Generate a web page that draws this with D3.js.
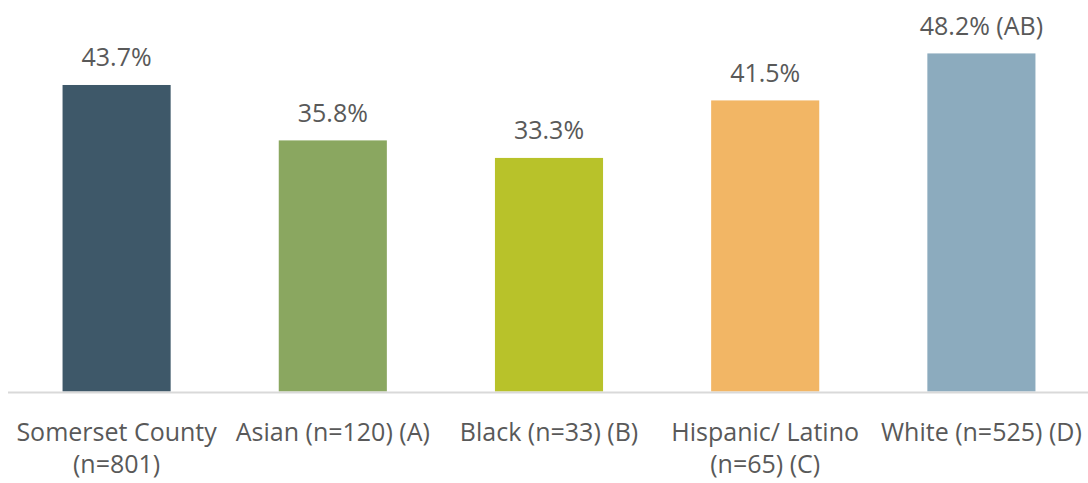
<!DOCTYPE html>
<html>
<head>
<meta charset="utf-8">
<script src="https://cdn.jsdelivr.net/npm/d3@7"></script>
<style>
    body { margin: 0; background: #fff; }
    #chart text { font-family: "Open Sans", sans-serif; fill: #595959; }
</style>
</head>
<body>
<div id="chart"></div>
<script>
// data
var categories = ["Somerset County", "Asian", "Black", "Hispanic/ Latino", "White"];
var catLines = [
    ["Somerset County", "(n=801)"],
    ["Asian (n=120) (A)"],
    ["Black (n=33) (B)"],
    ["Hispanic/ Latino", "(n=65) (C)"],
    ["White (n=525) (D)"]
];
var values = [43.7, 35.8, 33.3, 41.5, 48.2];
var valueLabels = ["43.7%", "35.8%", "33.3%", "41.5%", "48.2% (AB)"];
var colors = ["#3e5869", "#8aa760", "#b8c22a", "#f2b665", "#8cabbe"];

var W = 1088, H = 483;
var baseY = 391.5;

var svg = d3.select("#chart").append("svg")
    .attr("width", W)
    .attr("height", H);

var x = d3.scaleBand()
    .domain(categories)
    .range([8.5, 1089.5])
    .paddingInner(0.5)
    .paddingOuter(0.25);

var y = d3.scaleLinear()
    .domain([0, 50])
    .range([baseY, 40.8]);

// bars
svg.selectAll("rect.bar")
    .data(values)
    .enter().append("rect")
    .attr("class", "bar")
    .attr("x", function (d, i) { return x(categories[i]); })
    .attr("width", x.bandwidth())
    .attr("y", function (d) { return y(d); })
    .attr("height", function (d) { return y(0) - y(d); })
    .attr("fill", function (d, i) { return colors[i]; });

// value labels
svg.selectAll("text.val")
    .data(values)
    .enter().append("text")
    .attr("class", "val")
    .attr("text-anchor", "middle")
    .attr("font-size", 25)
    .attr("x", function (d, i) { return x(categories[i]) + x.bandwidth() / 2; })
    .attr("y", function (d) { return y(d) - 18.5; })
    .text(function (d, i) { return valueLabels[i]; });

// x axis line
svg.append("line")
    .attr("x1", 8)
    .attr("x2", 1088)
    .attr("y1", baseY + 1)
    .attr("y2", baseY + 1)
    .attr("stroke", "#d9d9d9")
    .attr("stroke-width", 2);

// category labels (wrapped)
var xAxis = d3.axisBottom(x).tickSize(0).tickFormat("");
var g = svg.append("g")
    .attr("transform", "translate(0," + (baseY + 1) + ")")
    .call(xAxis);
g.select(".domain").remove();

g.selectAll(".tick").each(function (d, i) {
    var t = d3.select(this).append("text")
        .attr("text-anchor", "middle")
        .attr("font-size", 25)
        .attr("y", 48.5);
    catLines[i].forEach(function (line, k) {
        t.append("tspan")
            .attr("x", 0)
            .attr("dy", k === 0 ? 0 : 32)
            .text(line);
    });
});
</script>
</body>
</html>
